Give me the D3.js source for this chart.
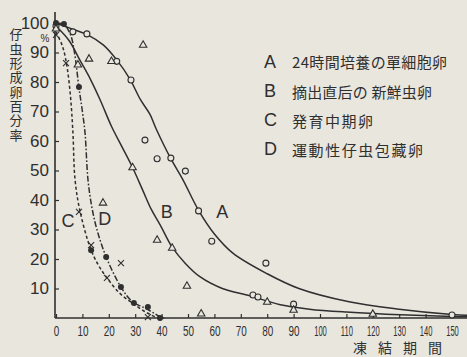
<!DOCTYPE html>
<html><head><meta charset="utf-8">
<script src="https://cdn.jsdelivr.net/npm/d3@7"></script>
<style>
html,body{margin:0;padding:0;background:#e9e6de;}
svg{display:block;}
</style></head>
<body>
<svg id="c" width="467" height="357"></svg>
<script>
// ---- data ----
const xTicks = [0,10,20,30,40,50,60,70,80,90,100,110,120,130,140,150];
const yTicks = [10,20,30,40,50,60,70,80,90,100];
const yTitle = "仔虫形成卵百分率";
const xTitle = "凍結期間";
const legendKeys = ["A","B","C","D"];
const legendLabels = ["24時間培養の單細胞卵","摘出直后の 新鮮虫卵","発育中期卵","運動性仔虫包藏卵"];

// A: open circles
const pointsA = [[0,99],[6.4,97],[11.7,96.3],[23,87],[28.4,80.7],[33.7,60.3],[38.3,54],[43.5,54.2],[49,49.8],[54,36.3],[59,26],[74.6,7.8],[76.5,7.1],[79.5,18.6],[90,4.7],[150,1]];
// B: open triangles
const pointsB = [[0,98],[8.3,85.8],[12.5,87.8],[21,87],[33,92.5],[29,51],[17.8,39],[38.3,26.4],[44,23.7],[49.6,10.8],[55,1.4],[80,5.4],[90,2.7],[120,1.3]];
// C: crosses
const pointsC = [[0,96],[3.8,86.4],[8.7,36],[13.3,24.7],[19.3,13.6],[24.6,18.6],[34.8,0.3]];
// D: filled circles
const pointsD = [[0,100],[3,99.7],[8.7,78.3],[13.3,23],[19,20.7],[24.6,10.5],[29.5,5.1],[34.8,3.7],[39.4,0]];

// fitted curves
const curveA = [[0,100],[6,98],[12,96],[18,92.5],[23,87.5],[28,81],[32,74],[35.6,69],[38,64],[43.5,54],[48,47],[54,36.5],[60,28.5],[67,22],[80,15],[92,10],[111,5.5],[130,3],[150,1.2],[156,0.9]];
const curveB = [[0,99],[5,94],[9,87.5],[13,81],[16.7,74],[21,65],[25,58],[29,51],[33,43],[36,37],[39.5,31.5],[44,24],[49,18.5],[54.5,14],[63,10],[73.5,7.5],[85,4.5],[96,3],[110,2],[125,1.3],[150,0.5],[156,0.4]];
const curveC = [[0,97],[2.5,92],[4.2,85],[5.5,75],[6.4,63],[7.2,47],[9,36.6],[12.9,24],[16,18],[19.3,13.6],[24,8.5],[29,5],[34,2],[38,0.3],[41,0]];
const curveD = [[0,100],[3,99.5],[5.5,96],[7,90],[8.7,78],[10,70],[11,62.7],[12.1,47],[13.5,38],[15.5,30],[19,20.7],[24.6,10.5],[29,5.5],[34.5,3],[40,0]];

// plot labels near curves
const curveLabels = [["A",63,36],["B",42,36],["C",4.5,33],["D",18.5,33.5]];

// ---- drawing ----
const ink = "#2f2f2f";
const svg = d3.select("#c");
const x = d3.scaleLinear().domain([0,150]).range([56,452]);
const y = d3.scaleLinear().domain([0,100]).range([318,23]);

// axes
const gx = svg.append("g").attr("transform","translate(0,318)")
  .call(d3.axisBottom(x).tickValues(xTicks).tickSize(-4).tickPadding(7).tickFormat(d3.format("d")));
gx.select(".domain").remove();
gx.selectAll(".tick line").attr("stroke",ink).attr("stroke-width",1.2);
gx.selectAll(".tick text").attr("fill",ink).style("font-family","Liberation Sans, Arial, sans-serif").style("font-size","15.5px")
  .attr("transform",d=>`scale(${String(d).length===3?0.49:0.64},1)`);
svg.append("line").attr("x1",55).attr("x2",467).attr("y1",318).attr("y2",318).attr("stroke",ink).attr("stroke-width",1.6);

const gy = svg.append("g").attr("transform","translate(55,0)")
  .call(d3.axisLeft(y).tickValues(yTicks).tickSize(-4).tickPadding(6).tickFormat(d3.format("d")));
gy.select(".domain").remove();
gy.selectAll(".tick line").attr("stroke",ink).attr("stroke-width",1.2);
gy.selectAll(".tick text").attr("fill",ink).style("font-family","Liberation Sans, Arial, sans-serif").style("font-size","17px");
svg.append("line").attr("x1",55).attr("x2",55).attr("y1",12).attr("y2",318).attr("stroke",ink).attr("stroke-width",1.6);

svg.append("text").attr("x",45).attr("y",42).attr("text-anchor","middle").attr("fill",ink)
  .style("font-family","Liberation Sans, Arial, sans-serif").style("font-size","10px").text("%");

// y title, vertical writing
svg.append("text").attr("x",16).attr("y",28)
  .attr("writing-mode","vertical-rl").style("writing-mode","vertical-rl")
  .attr("fill",ink).style("font-family","Noto Sans CJK JP, sans-serif").style("font-size","13px")
  .style("letter-spacing","1.3px").text(yTitle);

// x title
svg.append("text").attr("x",353).attr("y",347).attr("dominant-baseline","central").attr("fill",ink)
  .style("font-family","Noto Sans CJK JP, sans-serif").style("font-size","14px").style("letter-spacing","11px").text(xTitle);

// curves
const line = d3.line().x(d=>x(d[0])).y(d=>y(d[1])).curve(d3.curveCatmullRom.alpha(0.5));
const curves = [[curveA,null],[curveB,null],[curveC,"3.2,2.4"],[curveD,"6,2,1.6,2"]];
svg.append("g").selectAll("path").data(curves).join("path")
  .attr("d",d=>line(d[0])).attr("fill","none").attr("stroke",ink).attr("stroke-width",1.5)
  .attr("stroke-dasharray",d=>d[1]);

// markers
svg.append("g").selectAll("circle").data(pointsA).join("circle")
  .attr("cx",d=>x(d[0])).attr("cy",d=>y(d[1])).attr("r",3)
  .attr("fill","#e9e6de").attr("stroke",ink).attr("stroke-width",1.1);
const tri = d3.symbol().type(d3.symbolTriangle).size(24);
svg.append("g").selectAll("path").data(pointsB).join("path")
  .attr("transform",d=>`translate(${x(d[0])},${y(d[1])})`).attr("d",tri())
  .attr("fill","#e9e6de").attr("stroke",ink).attr("stroke-width",1.1);
svg.append("g").selectAll("path").data(pointsC).join("path")
  .attr("transform",d=>`translate(${x(d[0])},${y(d[1])})`).attr("d","M-3,-3L3,3M-3,3L3,-3")
  .attr("fill","none").attr("stroke",ink).attr("stroke-width",1.1);
svg.append("g").selectAll("circle").data(pointsD).join("circle")
  .attr("cx",d=>x(d[0])).attr("cy",d=>y(d[1])).attr("r",3).attr("fill",ink);

// curve labels
svg.append("g").selectAll("text").data(curveLabels).join("text")
  .attr("x",d=>x(d[1])).attr("y",d=>y(d[2])).attr("text-anchor","middle").attr("dominant-baseline","central")
  .attr("fill",ink).style("font-family","Liberation Sans, Arial, sans-serif").style("font-size","18px").text(d=>d[0]);

// legend
const legY = [61.5,91,120,149];
const legEnd = [447,432,373,423];
const lg = svg.append("g");
lg.selectAll("text.k").data(legendKeys).join("text").attr("class","k")
  .attr("x",264).attr("y",(d,i)=>legY[i]).attr("dominant-baseline","central").attr("fill",ink)
  .style("font-family","Liberation Sans, Arial, sans-serif").style("font-size","18px").text(d=>d);
lg.selectAll("text.l").data(legendLabels).join("text").attr("class","l")
  .attr("x",292).attr("y",(d,i)=>legY[i]).attr("dominant-baseline","central").attr("fill",ink)
  .attr("textLength",(d,i)=>legEnd[i]-292).attr("lengthAdjust","spacing")
  .style("font-family","Noto Sans CJK JP, sans-serif").style("font-size","15px").text(d=>d);
</script>
</body></html>
